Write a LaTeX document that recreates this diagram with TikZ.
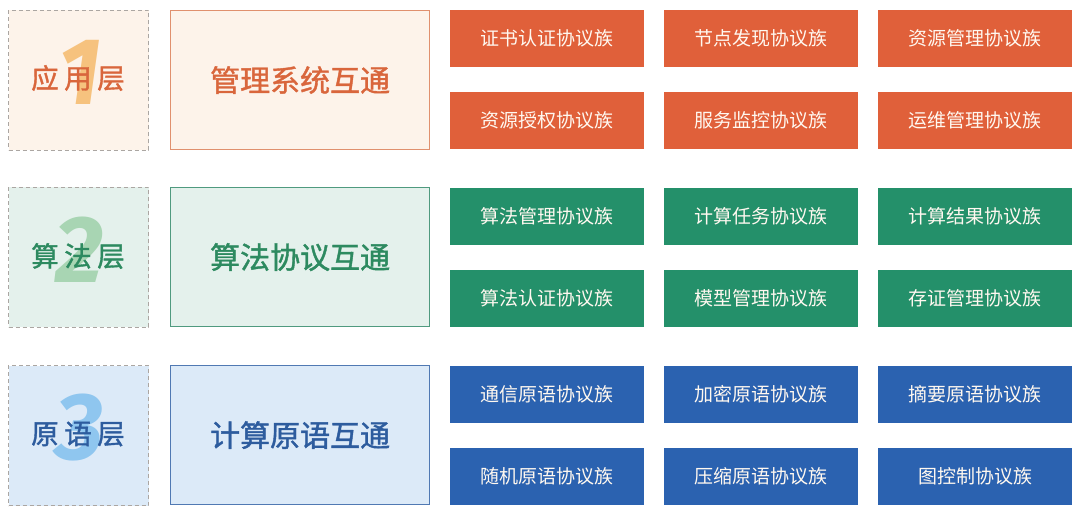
\documentclass[tikz,border=0pt]{standalone}
\usepackage{fontspec}
\setmainfont{Noto Sans CJK SC}
\newfontfamily\numfont{Fira Sans}
\newfontfamily\cjkmed{Noto Sans CJK SC}[FakeBold=1.3]
\newfontfamily\cjkwide{Noto Sans CJK SC}[FakeBold=1.3,LetterSpace=20]
\definecolor{orA}{HTML}{E0603A}
\definecolor{orBg}{HTML}{FDF3EA}
\definecolor{orLn}{HTML}{E0906E}
\definecolor{orTx}{HTML}{D9663C}
\definecolor{orNum}{HTML}{F6C27E}
\definecolor{grA}{HTML}{24906A}
\definecolor{grBg}{HTML}{E4F1EC}
\definecolor{grLn}{HTML}{4F9A7F}
\definecolor{grTx}{HTML}{2D8A60}
\definecolor{grNum}{HTML}{A8D5B3}
\definecolor{blA}{HTML}{2B62B0}
\definecolor{blBg}{HTML}{DCEAF8}
\definecolor{blLn}{HTML}{5079B3}
\definecolor{blTx}{HTML}{2D5C9E}
\definecolor{blNum}{HTML}{8FC6EF}
\definecolor{dashLn}{HTML}{ABA6A2}
\definecolor{boxTx}{HTML}{FFF8F0}
\tikzset{
  layerbox/.style={draw=dashLn, line width=1pt, dash pattern=on 4pt off 3pt, minimum width=140pt, minimum height=140pt, anchor=north west, inner sep=0pt},
  groupbox/.style={line width=1.2pt, minimum width=259pt, minimum height=139pt, anchor=north west, inner sep=0pt, font=\cjkmed\fontsize{30}{33}\selectfont},
  protobox/.style={minimum width=194pt, minimum height=57pt, anchor=north west, inner sep=0pt, text=boxTx, font=\fontsize{19}{22}\selectfont},
  bignum/.style={font=\numfont\fontsize{95}{95}\selectfont\bfseries\itshape},
  layerlabel/.style={font=\cjkwide\fontsize{27.5}{30}\selectfont}
}
\begin{document}
\begin{tikzpicture}[x=1pt,y=-1pt]
\useasboundingbox[fill=white] (0,0) rectangle (1080,513);
% layer 1
\node[layerbox, fill=orBg] (L1) at (8,10) {};
\node[bignum, text=orNum] (N1) at (80,72) {1};
\node[layerlabel, text=orTx] (T1) at (78,78) {应用层};
\node[groupbox, draw=orLn, fill=orBg, text=orTx] (G1) at (170,10) {管理系统互通};
% layer 2
\node[layerbox, fill=grBg] (L2) at (8,187) {};
\node[bignum, text=grNum] (N2) at (80,250) {2};
\node[layerlabel, text=grTx] (T2) at (78,256) {算法层};
\node[groupbox, draw=grLn, fill=grBg, text=grTx] (G2) at (170,187) {算法协议互通};
% layer 3
\node[layerbox, fill=blBg] (L3) at (8,365) {};
\node[bignum, text=blNum] (N3) at (80,428) {3};
\node[layerlabel, text=blTx] (T3) at (78,434) {原语层};
\node[groupbox, draw=blLn, fill=blBg, text=blTx] (G3) at (170,365) {计算原语互通};
% protocol boxes
\node[protobox, fill=orA] (p11) at (450,10) {证书认证协议族};
\node[protobox, fill=orA] (p12) at (664,10) {节点发现协议族};
\node[protobox, fill=orA] (p13) at (878,10) {资源管理协议族};
\node[protobox, fill=orA] (p14) at (450,92) {资源授权协议族};
\node[protobox, fill=orA] (p15) at (664,92) {服务监控协议族};
\node[protobox, fill=orA] (p16) at (878,92) {运维管理协议族};
\node[protobox, fill=grA] (p21) at (450,188) {算法管理协议族};
\node[protobox, fill=grA] (p22) at (664,188) {计算任务协议族};
\node[protobox, fill=grA] (p23) at (878,188) {计算结果协议族};
\node[protobox, fill=grA] (p24) at (450,270) {算法认证协议族};
\node[protobox, fill=grA] (p25) at (664,270) {模型管理协议族};
\node[protobox, fill=grA] (p26) at (878,270) {存证管理协议族};
\node[protobox, fill=blA] (p31) at (450,366) {通信原语协议族};
\node[protobox, fill=blA] (p32) at (664,366) {加密原语协议族};
\node[protobox, fill=blA] (p33) at (878,366) {摘要原语协议族};
\node[protobox, fill=blA] (p34) at (450,448) {随机原语协议族};
\node[protobox, fill=blA] (p35) at (664,448) {压缩原语协议族};
\node[protobox, fill=blA] (p36) at (878,448) {图控制协议族};
\end{tikzpicture}
\end{document}
